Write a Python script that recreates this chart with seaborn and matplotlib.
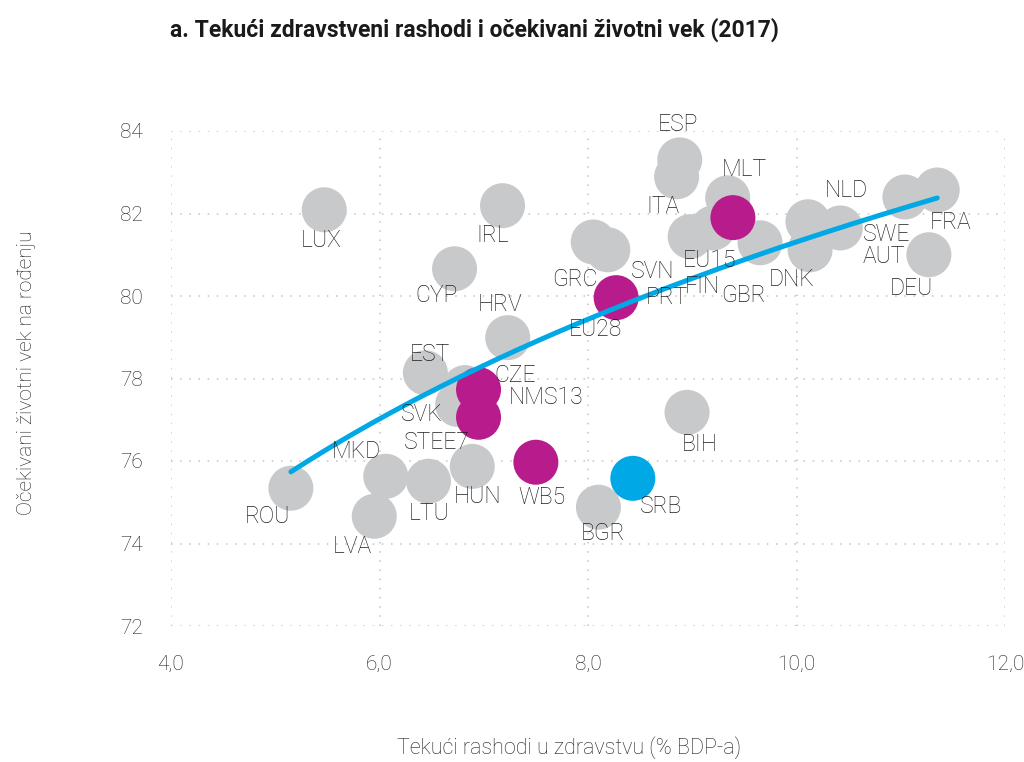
import numpy as np
import pandas as pd
import matplotlib
matplotlib.use("Agg")
import matplotlib.pyplot as plt
import seaborn as sns

# --- data -------------------------------------------------------------
countries = ["ROU", "LUX", "LVA", "MKD", "LTU", "HUN", "EST", "SVK", "CZE", "CYP",
             "HRV", "IRL", "GRC", "SVN", "ESP", "ITA", "PRT", "FIN", "MLT", "GBR",
             "NLD", "DNK", "AUT", "SWE", "FRA", "DEU", "BIH", "BGR",
             "SRB",
             "EU28", "EU15", "NMS13", "STEE7", "WB5"]
health_spending = [5.15, 5.47, 5.95, 6.06, 6.47, 6.89, 6.44, 6.75, 6.82, 6.72,
                   7.23, 7.18, 8.05, 8.19, 8.88, 8.85, 8.98, 9.20, 9.34, 9.65,
                   10.11, 10.13, 10.42, 11.04, 11.35, 11.27, 8.95, 8.10,
                   8.43,
                   8.27, 9.39, 6.95, 6.95, 7.50]
life_expectancy = [75.34, 82.09, 74.66, 75.63, 75.51, 75.87, 78.14, 77.37, 77.78, 80.66,
                   78.99, 82.19, 81.31, 81.12, 83.30, 82.89, 81.44, 81.65, 82.38, 81.29,
                   81.80, 81.12, 81.65, 82.40, 82.57, 81.00, 77.18, 74.88,
                   75.58,
                   79.96, 81.90, 77.73, 77.06, 75.97]
groups = ["country"] * 28 + ["serbia"] + ["aggregate"] * 5

# logarithmic trend: life = intercept + slope * ln(spending)
trend_intercept = 61.97
trend_slope = 8.40

x_ticks = [4.0, 6.0, 8.0, 10.0, 12.0]
x_tick_labels = ["4,0", "6,0", "8,0", "10,0", "12,0"]
y_ticks = [72, 74, 76, 78, 80, 82, 84]

# label offsets in pixels (dx, dy; dy positive = up)
label_offsets = [(-23, -28), (-3, -31), (-22, -30), (-29, 25), (1, -32), (5, -30),
                 (5, 18), (-36, -10), (50, 12), (-18, -27), (-8, 33), (-10, -30),
                 (-18, -38), (45, -22), (-2, 35), (-14, -30), (-23, -61), (-11, -59),
                 (17, 28), (-17, -53), (38, 31), (-18, -30), (44, -29), (-18, -38),
                 (13, -32), (-18, -34), (13, -32), (5, -26),
                 (28, -28),
                 (-21, -32), (-23, -43), (68, -8), (-42, -25), (6, -35)]

df = pd.DataFrame({"country": countries, "spending": health_spending,
                   "life": life_expectancy, "group": groups})

# --- style ------------------------------------------------------------
sns.set_style("white")
plt.rcParams["font.family"] = ["Roboto", "DejaVu Sans"]

palette = {"country": "#c8c9cb", "serbia": "#00a9e6", "aggregate": "#b81c8c"}
text_color = "#1f1f1f"

fig = plt.figure(figsize=(10.24, 7.62), dpi=100)
ax = fig.add_axes([171 / 1024, 1 - 626 / 762, (1005 - 171) / 1024, (626 - 131) / 762])

sns.scatterplot(data=df, x="spending", y="life", hue="group", palette=palette,
                s=1050, linewidth=0, alpha=1, legend=False, ax=ax, zorder=3)

countries_only = df[df["group"] == "country"]
xs = np.linspace(countries_only["spending"].min(), countries_only["spending"].max(), 200)
sns.lineplot(x=xs, y=trend_intercept + trend_slope * np.log(xs), color="#00a9e6",
             linewidth=3.6, ax=ax, zorder=4)

for name, xv, yv, (dx, dy) in zip(df["country"], df["spending"], df["life"], label_offsets):
    ax.annotate(name, (xv, yv), xytext=(dx, dy), textcoords="offset pixels",
                ha="center", va="center", fontsize=16.5, fontweight="light",
                color=text_color, zorder=5)

ax.set_xlim(4, 12)
ax.set_ylim(72, 84)
ax.set_xticks(x_ticks)
ax.set_xticklabels(x_tick_labels)
ax.set_yticks(y_ticks)
ax.grid(True, color="#c4c4c4", linestyle=(0, (1, 5)), linewidth=1.1)
for sp in ax.spines.values():
    sp.set_visible(False)
ax.tick_params(length=0, labelsize=15, colors=text_color)
for lab in ax.get_xticklabels() + ax.get_yticklabels():
    lab.set_fontweight("light")
ax.tick_params(axis="y", pad=20)
ax.tick_params(axis="x", pad=21)
ax.set_xlabel("")
ax.set_ylabel("")

fig.text(569 / 1024, 1 - 748 / 762, "Tekući rashodi u zdravstvu (% BDP-a)",
         ha="center", va="center", fontsize=15.5, fontweight="light", color=text_color)
fig.text(27 / 1024, 1 - 373 / 762, "Očekivani životni vek na rođenju", rotation=90,
         ha="center", va="center", fontsize=15, fontweight="light", color=text_color)
fig.text(170 / 1024, 1 - 30 / 762, "a. Tekući zdravstveni rashodi i očekivani životni vek (2017)",
         ha="left", va="center", fontsize=16.5, fontweight="bold", color="#1a1a1a")

fig.savefig("out.png", dpi=100)
